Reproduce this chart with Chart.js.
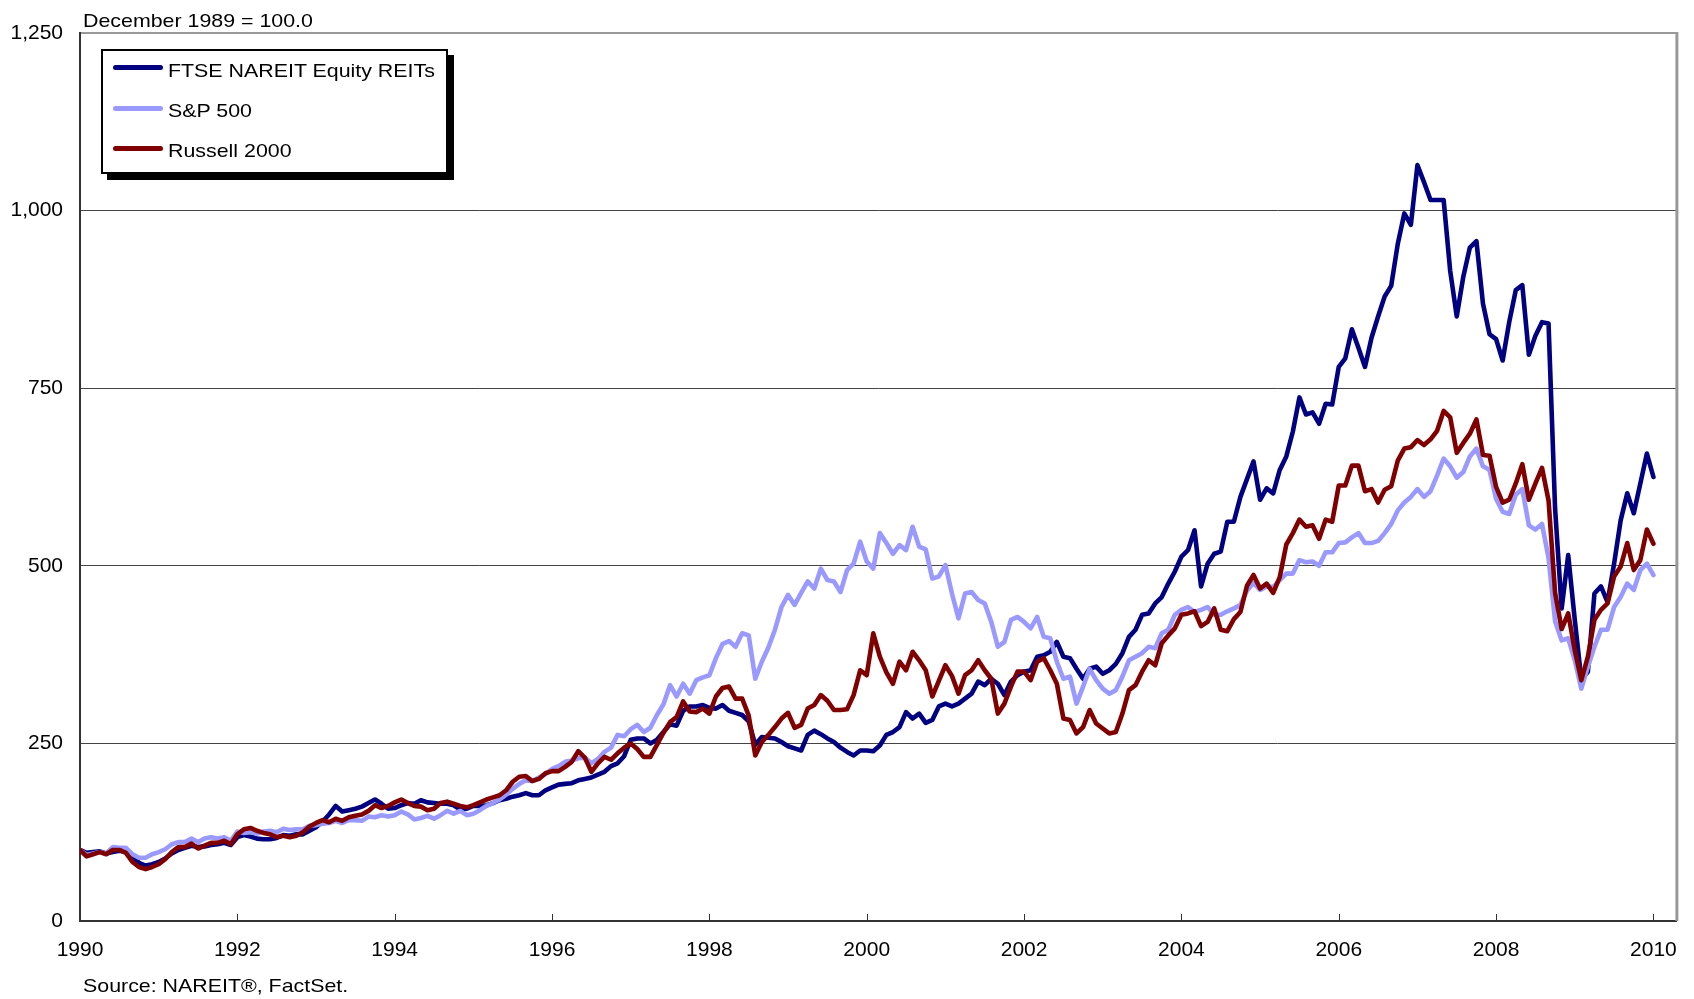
<!DOCTYPE html>
<html>
<head>
<meta charset="utf-8">
<title>REITs vs S&amp;P 500 vs Russell 2000</title>
<script src="https://cdn.jsdelivr.net/npm/chart.js@4.4.0/dist/chart.umd.min.js"></script>
<style>
  body { margin: 0; background: #fff; overflow: hidden; font-family: "Liberation Sans", Arial, sans-serif; }
  #wrap { position: relative; width: 1694px; height: 999px; }
  #chart { position: absolute; left: 0; top: 0; }
  .txt { position: absolute; font-size: 19px; line-height: 19px; color: #000; white-space: nowrap;
         transform: scaleX(1.125); transform-origin: left top; }
  #legend { position: absolute; left: 101px; top: 49px; width: 347px; height: 125px; box-sizing: border-box;
            border: 2px solid #000; background: #fff; box-shadow: 6px 6px 0 #000; }
  .swatch { position: absolute; width: 50px; height: 5px; border-radius: 2.5px; }
</style>
</head>
<body>
<div id="wrap">
  <canvas id="chart" width="1694" height="999"></canvas>
  <div class="txt" style="left:83px; top:11px;">December 1989 = 100.0</div>
  <div id="legend"></div>
  <div class="txt" style="left:83px; top:976px;">Source: NAREIT®, FactSet.</div>
</div>
<script>
// monthly index values, Dec 1989 = 100, one row per year (Jan..Dec)
var reit = [100,
  96, 97, 98, 95, 97, 99, 97, 90, 82, 78, 80, 83,
  88, 95, 100, 103, 106, 104, 105, 107, 108, 110, 107, 118,
  121, 119, 116, 115, 115, 117, 121, 120, 122, 122, 127, 132,
  140, 150, 162, 154, 156, 158, 161, 166, 171, 165, 158, 159,
  163, 166, 165, 170, 167, 166, 165, 165, 163, 157, 158, 162,
  162, 163, 166, 170, 172, 175, 177, 180, 177, 177, 184, 188,
  192, 193, 194, 198, 200, 202, 206, 210, 218, 222, 232, 255,
  257, 257, 250, 255, 266, 277, 275, 296, 302, 302, 304, 300,
  299, 304, 296, 293, 290, 281, 248, 259, 258, 257, 252, 246,
  243, 240, 262, 268, 263, 257, 252, 244, 238, 233, 240, 240,
  239, 247, 262, 266, 273, 294, 285, 292, 279, 283, 302, 306,
  302, 306, 313, 320, 337, 332, 341, 334, 318, 337, 346, 351,
  353, 372, 374, 379, 393, 372, 370, 355, 341, 355, 358, 348,
  353, 362, 377, 400, 410, 431, 433, 447, 456, 475, 492, 513,
  522, 550, 471, 503, 517, 520, 562, 562, 597, 622, 647, 593,
  609, 602, 635, 654, 689, 737, 713, 716, 700, 728, 727, 780,
  792, 833, 807, 780, 821, 851, 879, 894, 953, 996, 980, 1064,
  1040, 1015, 1015, 1015, 915, 851, 907, 948, 957, 869, 826, 819,
  789, 843, 888, 895, 797, 824, 843, 841, 580, 440, 515, 424,
  340, 351, 461, 471, 449, 503, 564, 602, 574, 616, 658, 625];

var sp500 = [100,
  93, 95, 97, 95, 104, 103, 103, 94, 89, 89, 94, 97,
  101, 108, 111, 111, 116, 111, 116, 118, 116, 118, 113, 126,
  124, 125, 123, 126, 127, 125, 130, 128, 129, 129, 134, 135,
  137, 138, 141, 138, 142, 142, 141, 147, 146, 149, 147, 149,
  154, 150, 143, 145, 148, 144, 149, 155, 151, 155, 149, 151,
  156, 162, 166, 171, 178, 186, 193, 198, 197, 202, 207, 214,
  218, 224, 226, 229, 230, 222, 228, 238, 244, 262, 260, 270,
  276, 266, 272, 290, 305, 332, 316, 334, 320, 339, 343, 346,
  370, 390, 394, 386, 405, 402, 341, 365, 385, 410, 442, 459,
  445, 462, 478, 468, 496, 480, 478, 463, 494, 503, 534, 506,
  496, 546, 532, 517, 529, 522, 555, 527, 523, 482, 485, 501,
  461, 426, 461, 463, 452, 447, 421, 386, 393, 424, 428, 421,
  412, 428, 400, 398, 365, 341, 344, 306, 330, 355, 339, 327,
  320, 325, 344, 367, 372, 377, 386, 384, 405, 410, 431, 438,
  442, 435, 438, 442, 431, 431, 436, 440, 445, 465, 476, 466,
  471, 470, 480, 489, 489, 508, 505, 506, 500, 519, 519, 532,
  533, 540, 546, 532, 532, 535, 546, 559, 578, 589, 597, 608,
  597, 605, 627, 651, 640, 624, 632, 654, 665, 640, 635, 594,
  576, 573, 600, 608, 557, 551, 559, 511, 422, 395, 398, 367,
  327, 358, 386, 410, 410, 442, 456, 475, 466, 494, 503, 487];

var russell = [100,
  91, 94, 97, 94, 100, 100, 96, 83, 76, 73, 76, 80,
  87, 97, 104, 104, 109, 102, 106, 110, 110, 113, 108, 122,
  129, 131, 127, 124, 122, 118, 120, 118, 120, 125, 133, 138,
  142, 139, 144, 141, 146, 148, 150, 155, 163, 159, 162, 167,
  171, 166, 162, 161, 156, 158, 166, 168, 165, 162, 160, 163,
  167, 171, 174, 177, 184, 196, 203, 204, 197, 200, 208, 211,
  211, 217, 224, 239, 230, 210, 222, 231, 227, 236, 244, 250,
  242, 231, 231, 248, 265, 280, 287, 309, 295, 294, 299, 292,
  316, 328, 330, 313, 313, 289, 233, 252, 262, 273, 285, 293,
  272, 276, 299, 304, 318, 310, 297, 297, 298, 318, 353, 346,
  405, 372, 350, 334, 365, 353, 379, 367, 353, 316, 338, 360,
  345, 320, 346, 353, 367, 353, 341, 292, 306, 330, 351, 351,
  339, 365, 370, 353, 334, 285, 283, 264, 273, 297, 278, 271,
  264, 266, 292, 325, 332, 351, 367, 360, 391, 402, 412, 431,
  433, 436, 415, 421, 440, 410, 408, 425, 435, 472, 487, 468,
  475, 462, 484, 530, 546, 565, 555, 557, 538, 565, 562, 613,
  613, 641, 641, 605, 608, 589, 607, 612, 648, 665, 667, 677,
  670, 678, 690, 718, 709, 659, 673, 686, 706, 656, 655, 611,
  589, 593, 616, 643, 593, 616, 638, 592, 462, 411, 433, 381,
  339, 372, 424, 438, 447, 485, 499, 532, 494, 508, 551, 531];

var seriesNames = ["FTSE NAREIT Equity REITs", "S&P 500", "Russell 2000"];
var seriesColors = ["#000080", "#9999FF", "#800000"];
var xTickLabels = ["1990", "1992", "1994", "1996", "1998", "2000", "2002", "2004", "2006", "2008", "2010"];

function toPoints(arr) {
  return arr.map((v, i) => ({ x: i, y: v }));
}

// legend box (html, like the excel one)
var legendEl = document.getElementById("legend");
seriesNames.forEach((name, i) => {
  let sw = document.createElement("div");
  sw.className = "swatch";
  sw.style.background = seriesColors[i];
  sw.style.left = "10px";
  sw.style.top = (16.7 + i * 40.6 - 2.5) + "px";
  legendEl.appendChild(sw);
  let t = document.createElement("div");
  t.className = "txt";
  t.textContent = name;
  t.style.left = "65px";
  t.style.top = (10.2 + i * 39.7) + "px";
  legendEl.appendChild(t);
});

const frameLines = {
  id: "frameLines",
  afterDraw(chart) {
    const ctx = chart.ctx;
    const a = chart.chartArea;
    const x = chart.scales.x;
    ctx.save();
    // grey right border
    ctx.strokeStyle = "#999";
    ctx.lineWidth = 3;
    ctx.beginPath();
    ctx.moveTo(a.right + 0.5, a.top - 1);
    ctx.lineTo(a.right + 0.5, a.bottom);
    ctx.stroke();
    // small tick marks pointing up into the plot
    ctx.strokeStyle = "#333";
    ctx.lineWidth = 1;
    x.ticks.forEach(t => {
      let px = Math.round(x.getPixelForValue(t.value)) + 0.5;
      ctx.beginPath();
      ctx.moveTo(px, a.bottom);
      ctx.lineTo(px, a.bottom - 7);
      ctx.stroke();
    });
    ctx.restore();
  }
};

var ctx = document.getElementById("chart").getContext("2d");
var chart = new Chart(ctx, {
  type: "line",
  data: {
    datasets: [
      { label: seriesNames[0], data: toPoints(reit), borderColor: seriesColors[0], order: 3 },
      { label: seriesNames[1], data: toPoints(sp500), borderColor: seriesColors[1], order: 2 },
      { label: seriesNames[2], data: toPoints(russell), borderColor: seriesColors[2], order: 1 }
    ]
  },
  options: {
    responsive: false,
    animation: false,
    devicePixelRatio: 1,
    layout: { padding: { left: 0, top: 33, right: 14, bottom: 0 } },
    elements: {
      line: { borderWidth: 4.6, tension: 0, borderJoinStyle: "round", borderCapStyle: "round", fill: false },
      point: { radius: 0, hoverRadius: 0 }
    },
    plugins: {
      legend: { display: false },
      tooltip: { enabled: false },
      title: { display: false }
    },
    scales: {
      x: {
        type: "linear",
        min: 0,
        max: 243.5,
        afterBuildTicks: (scale) => {
          scale.ticks = xTickLabels.map((_, i) => ({ value: i * 24 }));
        },
        afterFit: (scale) => { scale.height = 78; },
        grid: { display: false, drawTicks: false },
        border: { display: true, color: "#333", width: 2 },
        ticks: {
          autoSkip: false,
          maxRotation: 0,
          padding: 17,
          color: "#000",
          font: { family: "'Liberation Sans', Arial, sans-serif", size: 21 },
          callback: (value, index) => xTickLabels[index]
        }
      },
      y: {
        min: 0,
        max: 1250,
        afterFit: (scale) => { scale.width = 80; },
        grid: {
          drawTicks: false,
          color: (c) => c.tick.value === 1250 ? "#999" : "#444",
          lineWidth: (c) => c.tick.value === 1250 ? 2 : 1
        },
        border: { display: true, color: "#333", width: 2 },
        ticks: {
          stepSize: 250,
          padding: 17,
          color: "#000",
          font: { family: "'Liberation Sans', Arial, sans-serif", size: 21 },
          callback: (value) => value.toLocaleString("en-US")
        }
      }
    }
  },
  plugins: [frameLines]
});
</script>
</body>
</html>
